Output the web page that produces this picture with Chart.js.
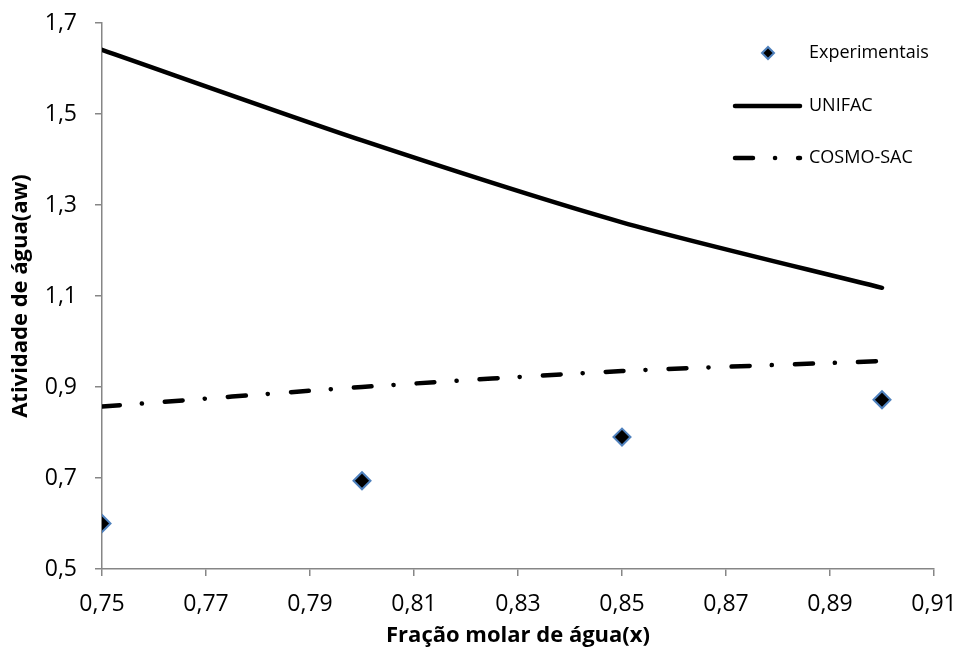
<!DOCTYPE html>
<html><head><meta charset="utf-8">
<script src="https://cdn.jsdelivr.net/npm/chart.js@4/dist/chart.umd.min.js"></script>
<style>html,body{margin:0;padding:0;background:#fff}#wrap{width:959px;height:652px}</style>
</head><body><div id="wrap"><canvas id="c" width="959" height="652"></canvas></div>
<script>
// ---- data ----
const xExp = [0.75, 0.80, 0.85, 0.90];
const yExp = [0.600, 0.694, 0.790, 0.872];
const xModel = [0.75, 0.80, 0.85, 0.90];
const yUnifac = [1.641, 1.442, 1.262, 1.118];
const yCosmo = [0.857, 0.900, 0.935, 0.957];
const seriesNames = ['Experimentais', 'UNIFAC', 'COSMO-SAC'];
const xTitle = 'Fração molar de água(x)';
const yTitle = 'Atividade de água(aw)';
const xRange = [0.75, 0.91], xStep = 0.02;
const yRange = [0.5, 1.7], yStep = 0.2;

const FONT = '"Open Sans", "DejaVu Sans", sans-serif';
const AXIS = '#868686';
const COSMO_DASH = [18, 22, 0.1, 23];

const pts = (xs, ys) => xs.map((x, i) => ({x, y: ys[i]}));

const legendPlugin = {
  id: 'customLegend',
  afterDraw(chart) {
    const ctx = chart.ctx;
    const ds = chart.data.datasets;
    const x0 = 733, x1 = 800, tx = 809;
    const ys = [53, 106, 158];
    ctx.save();
    ctx.fillStyle = ds[0].backgroundColor; ctx.strokeStyle = ds[0].borderColor; ctx.lineWidth = 2;
    Chart.helpers.drawPoint(ctx, {pointStyle: 'rectRot', radius: 6, borderWidth: 2, rotation: 0}, 768, ys[0]);
    ctx.strokeStyle = ds[1].borderColor; ctx.lineWidth = ds[1].borderWidth; ctx.lineCap = 'round';
    ctx.setLineDash([]);
    ctx.beginPath(); ctx.moveTo(x0 + 2, ys[1]); ctx.lineTo(x1, ys[1]); ctx.stroke();
    ctx.strokeStyle = ds[2].borderColor; ctx.lineWidth = ds[2].borderWidth;
    ctx.setLineDash(ds[2].borderDash);
    ctx.beginPath(); ctx.moveTo(x0 + 2, ys[2]); ctx.lineTo(x1, ys[2]); ctx.stroke();
    ctx.setLineDash([]);
    ctx.fillStyle = '#000';
    ctx.font = '18px ' + FONT;
    ctx.textBaseline = 'middle';
    ctx.textAlign = 'left';
    seriesNames.forEach((n, i) => ctx.fillText(n, tx, ys[i]));
    ctx.restore();
  }
};

new Chart(document.getElementById('c'), {
  type: 'scatter',
  data: {
    datasets: [
      {label: seriesNames[0], data: pts(xExp, yExp), showLine: false,
       pointStyle: 'rectRot', pointRadius: 8.5, pointHoverRadius: 8.5,
       backgroundColor: '#000000', borderColor: '#4f81bd', borderWidth: 2, order: 0},
      {label: seriesNames[1], data: pts(xModel, yUnifac), showLine: true,
       borderColor: '#000000', borderWidth: 4.5, pointRadius: 0, tension: 0.25,
       borderCapStyle: 'round', order: 1},
      {label: seriesNames[2], data: pts(xModel, yCosmo), showLine: true,
       borderColor: '#000000', borderWidth: 4.5, pointRadius: 0, tension: 0.25,
       borderDash: COSMO_DASH, borderCapStyle: 'round', order: 2}
    ]
  },
  options: {
    responsive: false,
    animation: false,
    layout: {padding: {top: 23, right: 25, bottom: 0, left: 0}},
    plugins: {legend: {display: false}, tooltip: {enabled: false}},
    scales: {
      x: {
        type: 'linear', min: xRange[0], max: xRange[1],
        ticks: {stepSize: xStep, autoSkip: false, maxRotation: 0,
          callback: v => v.toFixed(2).replace('.', ','),
          font: {family: FONT, size: 23}, color: '#000', padding: 15},
        grid: {drawOnChartArea: false, tickLength: 7, color: AXIS, lineWidth: 1.5},
        border: {color: AXIS, width: 1.5},
        title: {display: true, text: xTitle, color: '#000',
          font: {family: FONT, size: 22, weight: 'bold'}, padding: {top: 0, bottom: 3}},
        afterFit: s => { s.height = 83; s.paddingLeft = 0; s.paddingRight = 0; }
      },
      y: {
        type: 'linear', min: yRange[0], max: yRange[1],
        ticks: {stepSize: yStep,
          callback: v => v.toFixed(1).replace('.', ','),
          font: {family: FONT, size: 23}, color: '#000', padding: 18},
        grid: {drawOnChartArea: false, tickLength: 7, color: AXIS, lineWidth: 1.5},
        border: {color: AXIS, width: 1.5},
        title: {display: true, text: yTitle, color: '#000',
          font: {family: FONT, size: 22, weight: 'bold'}, padding: {top: 8, bottom: 0}},
        afterFit: s => { s.width = 102; s.paddingTop = 0; s.paddingBottom = 0; }
      }
    }
  },
  plugins: [legendPlugin]
});
</script>
</body></html>
